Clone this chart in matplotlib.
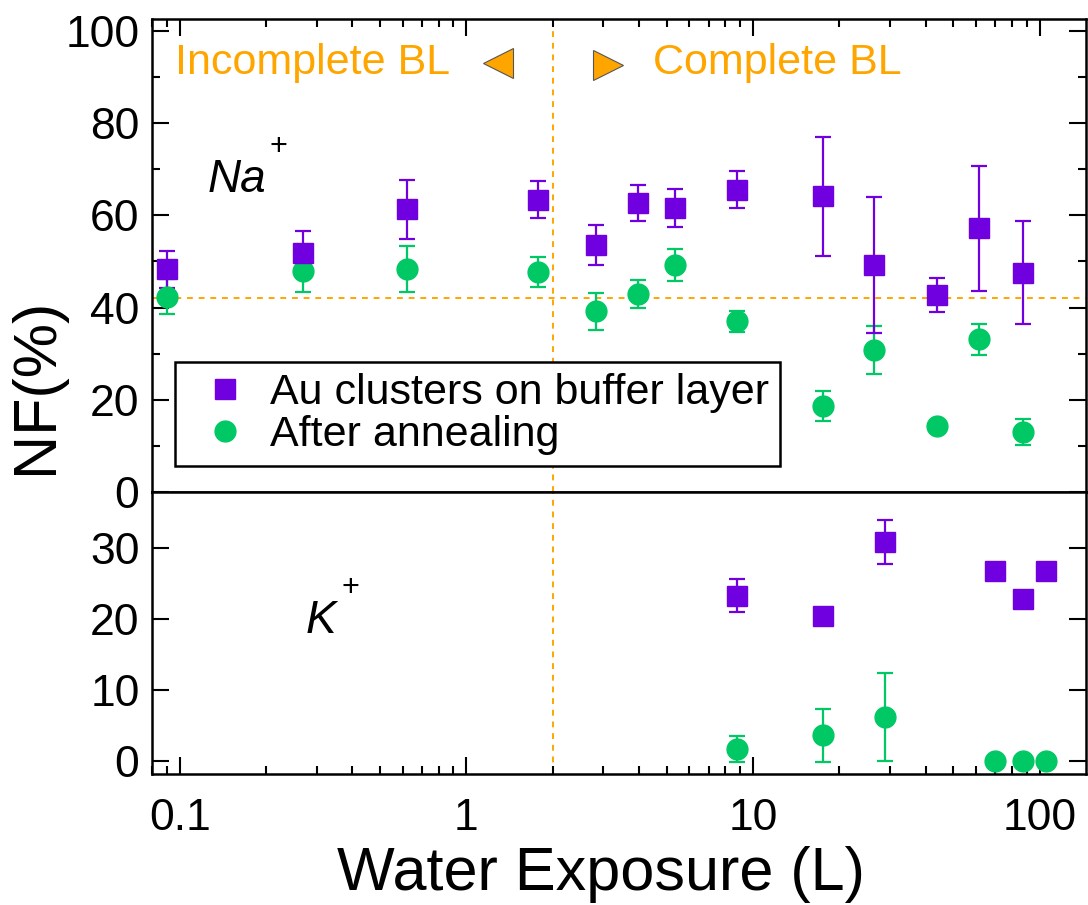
import numpy as np
import matplotlib
matplotlib.use("Agg")
import matplotlib.pyplot as plt
from matplotlib.lines import Line2D
from matplotlib.ticker import FixedLocator, LogLocator, NullFormatter

plt.rcParams['font.family'] = ['Liberation Sans', 'DejaVu Sans']

# Na+ panel (top)
x_na = [0.09, 0.27, 0.62, 1.78, 2.84, 3.98, 5.33, 8.82, 17.6, 26.4, 43.9, 61.5, 87.7]
na_au = [48.3, 51.9, 61.3, 63.4, 53.6, 62.6, 61.6, 65.6, 64.1, 49.2, 42.8, 57.2, 47.6]
na_au_err = [4.0, 4.8, 6.4, 4.0, 4.3, 3.9, 4.1, 4.1, 13.0, 14.8, 3.7, 13.5, 11.2]
na_ann = [42.4, 48.0, 48.4, 47.7, 39.2, 43.0, 49.2, 37.0, 18.7, 30.7, 14.3, 33.1, 13.0]
na_ann_err = [3.7, 4.7, 5.0, 3.2, 4.0, 3.0, 3.5, 2.3, 3.3, 5.2, 0.0, 3.4, 2.8]

# K+ panel (bottom)
x_k = [8.82, 17.6, 28.9, 69.8, 87.7, 104.9]
k_au = [23.3, 20.5, 30.9, 26.7, 22.8, 26.7]
k_au_err = [2.3, 0.0, 3.1, 0.0, 0.8, 0.5]
k_ann = [1.7, 3.6, 6.2, 0.0, 0.0, 0.0]
k_ann_err = [1.8, 3.7, 6.2, 0.0, 0.0, 0.0]

bl_exposure = 2.0
bl_nf = 42.0

purple = '#7000E0'
green = '#00C864'
orange = '#FFA500'

fig = plt.figure(figsize=(10.88, 9.05), dpi=100)
W, H = 1088, 905
left, right = 152 / W, 1086 / W
ax1 = fig.add_axes([left, 1 - 492 / H, right - left, (492 - 19) / H])
ax2 = fig.add_axes([left, 1 - 774 / H, right - left, (774 - 492) / H], sharex=ax1)

ms = 15
eb_kw = dict(linestyle='none', capsize=5.5, elinewidth=1.6, capthick=1.6)

ax1.errorbar(x_na, na_ann, yerr=na_ann_err, fmt='o', color=green, ms=ms, **eb_kw)
ax1.errorbar(x_na, na_au, yerr=na_au_err, fmt='s', color=purple, ms=ms, **eb_kw)
ax2.errorbar(x_k, k_ann, yerr=k_ann_err, fmt='o', color=green, ms=ms, **eb_kw)
ax2.errorbar(x_k, k_au, yerr=k_au_err, fmt='s', color=purple, ms=ms, **eb_kw)

for ax in (ax1, ax2):
    ax.axvline(bl_exposure, color=orange, ls=(0, (3, 3)), lw=1.4, zorder=0)
ax1.axhline(bl_nf, color=orange, ls=(0, (3, 3)), lw=1.4, zorder=0)

ax1.set_xscale('log')
ax1.set_xlim(0.08, 145)
ax1.set_ylim(0, 102.6)
ax2.set_ylim(-1.83, 37.9)

ax1.yaxis.set_major_locator(FixedLocator([0, 20, 40, 60, 80, 100]))
ax1.yaxis.set_minor_locator(FixedLocator([10, 30, 50, 70, 90]))
ax2.yaxis.set_major_locator(FixedLocator([0, 10, 20, 30]))
ax2.xaxis.set_major_locator(FixedLocator([0.1, 1, 10, 100]))
ax2.xaxis.set_minor_locator(LogLocator(base=10, subs=np.arange(2, 10), numticks=10))
ax2.xaxis.set_minor_formatter(NullFormatter())
ax2.set_xticklabels(['0.1', '1', '10', '100'])

for ax in (ax1, ax2):
    for sp in ax.spines.values():
        sp.set_linewidth(1.8)
    ax.tick_params(which='major', direction='in', length=12, width=1.5, labelsize=32, pad=9)
    ax.tick_params(which='minor', direction='in', length=6, width=1.5)
    ax.tick_params(axis='y', which='both', left=True, right=True)

ax1.tick_params(axis='x', which='both', top=True, bottom=False, labelbottom=False)
ax2.tick_params(axis='x', which='both', top=False, bottom=True, pad=17)
ax2.tick_params(axis='y', which='minor', left=False, right=False)

fig.text(37 / W, 1 - 386 / H, 'NF(%)', rotation=90, ha='center', va='center', fontsize=44)
fig.text(601 / W, 1 - 890 / H, 'Water Exposure (L)', ha='center', va='baseline', fontsize=44)

# ion labels
ax1.text(0.06, 0.634, 'Na', transform=ax1.transAxes, fontsize=33, style='italic', va='baseline')
ax1.text(0.135, 0.729, '+', transform=ax1.transAxes, fontsize=22, ha='center', va='center')
ax2.text(0.164, 0.50, 'K', transform=ax2.transAxes, fontsize=33, style='italic', va='baseline')
ax2.text(0.212, 0.66, '+', transform=ax2.transAxes, fontsize=22, ha='center', va='center')

# buffer layer annotations
ax1.text(0.0246, 0.906, 'Incomplete BL', transform=ax1.transAxes, fontsize=31, color=orange, va='center')
ax1.text(0.536, 0.906, 'Complete BL', transform=ax1.transAxes, fontsize=31, color=orange, va='center')
ax1.plot([0.370], [0.907], marker='<', ms=22, color=orange, mec='#555555', mew=0.8,
         transform=ax1.transAxes, clip_on=False)
ax1.plot([0.488], [0.903], marker='>', ms=22, color=orange, mec='#555555', mew=0.8,
         transform=ax1.transAxes, clip_on=False)

handles = [Line2D([], [], ls='none', marker='s', ms=ms, color=purple),
           Line2D([], [], ls='none', marker='o', ms=ms, color=green)]
labels = ['Au clusters on buffer layer', 'After annealing']
leg = ax1.legend(handles, labels, loc='lower left', bbox_to_anchor=(0.0246, 0.055),
                 borderaxespad=0, fontsize=31, frameon=True, fancybox=False,
                 edgecolor='black', framealpha=1, handlelength=1.83, handletextpad=0.13,
                 labelspacing=0.05, borderpad=0.25)
leg.get_frame().set_linewidth(1.8)

fig.savefig('out.png', dpi=100)
